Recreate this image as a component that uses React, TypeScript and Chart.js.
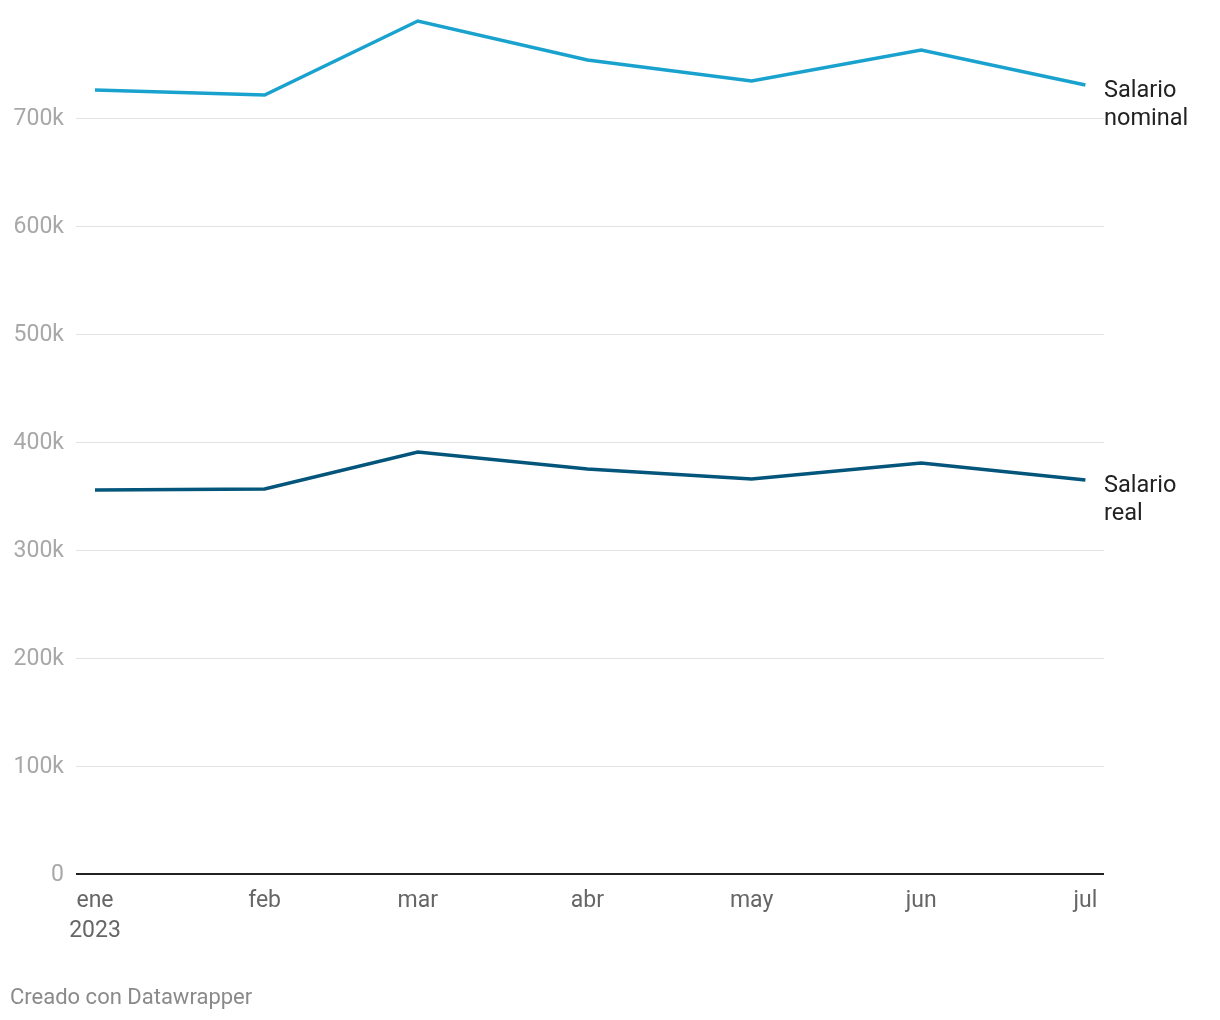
import React, { useEffect, useRef } from "react";
import { Chart, registerables } from "chart.js";

Chart.register(...registerables);

// Day offsets from 1 Jan 2023 for each month start
const monthDays = [0, 31, 59, 90, 120, 151, 181];
const monthLabels = ["ene", "feb", "mar", "abr", "may", "jun", "jul"];
const yearLabel = "2023";

const salarioNominal = [725900, 721300, 789800, 753700, 734300, 763000, 730600];
const salarioReal = [355600, 356500, 390700, 375000, 365700, 380600, 364800];

const seriesNames = [["Salario", "nominal"], ["Salario", "real"]];
const yTicks = [0, 100000, 200000, 300000, 400000, 500000, 600000, 700000];

const W = 1220;
const H = 1020;

export default function App() {
  const ref = useRef<HTMLCanvasElement | null>(null);

  useEffect(() => {
    if (!ref.current) return;
    const labelPlugin = {
      id: "lineLabels",
      afterDatasetsDraw(chart: any) {
        const ctx = chart.ctx;
        ctx.save();
        ctx.font = "23.5px Roboto";
        ctx.fillStyle = "#222222";
        ctx.textAlign = "left";
        ctx.textBaseline = "middle";
        chart.data.datasets.forEach((ds: any, i: number) => {
          const meta = chart.getDatasetMeta(i);
          const pt = meta.data[meta.data.length - 1];
          const names = seriesNames[i];
          names.forEach((t: string, j: number) => {
            ctx.fillText(t, chart.chartArea.right, pt.y + 6 + j * 28);
          });
        });
        ctx.restore();
      },
    };

    const chart = new Chart(ref.current, {
      type: "line",
      data: {
        datasets: [
          {
            label: "Salario nominal",
            data: monthDays.map((d, i) => ({ x: d, y: salarioNominal[i] })),
            borderColor: "#1aa2cf",
            borderWidth: 3.5,
            pointRadius: 0,
            tension: 0,
          },
          {
            label: "Salario real",
            data: monthDays.map((d, i) => ({ x: d, y: salarioReal[i] })),
            borderColor: "#04557b",
            borderWidth: 3.5,
            pointRadius: 0,
            tension: 0,
          },
        ],
      },
      options: {
        animation: false,
        responsive: false,
        devicePixelRatio: 1,
        layout: { padding: { left: 0, right: 116, top: 10, bottom: 0 } },
        plugins: {
          legend: { display: false },
          tooltip: { enabled: false },
        },
        scales: {
          x: {
            type: "linear",
            min: -3.47,
            max: 184.4,
            afterBuildTicks: (scale: any) => {
              scale.ticks = monthDays.map((v) => ({ value: v }));
            },
            afterFit: (scale: any) => {
              scale.height = H - 874;
              scale.paddingLeft = 0;
              scale.paddingRight = 0;
            },
            grid: { display: false, drawTicks: false },
            border: { display: false },
            ticks: {
              autoSkip: false,
              maxRotation: 0,
              padding: 12,
              color: "#666666",
              font: { family: "Roboto", size: 23, lineHeight: 30 / 23 },
              callback: (v: any) => {
                const i = monthDays.indexOf(Number(v));
                if (i === 0) return [monthLabels[0], yearLabel];
                return i >= 0 ? monthLabels[i] : "";
              },
            },
          },
          y: {
            min: 0,
            max: 800000,
            afterBuildTicks: (scale: any) => {
              scale.ticks = yTicks.map((v) => ({ value: v }));
            },
            afterFit: (scale: any) => {
              scale.width = 76;
              scale.paddingTop = 0;
              scale.paddingBottom = 0;
            },
            border: { display: false },
            grid: {
              drawTicks: false,
              color: (c: any) => (c.tick && c.tick.value === 0 ? "#222222" : "#e3e3e3"),
              lineWidth: (c: any) => (c.tick && c.tick.value === 0 ? 2 : 1),
            },
            ticks: {
              padding: 12,
              labelOffset: 1.5,
              color: "#a8a8a8",
              font: { family: "Roboto", size: 23 },
              callback: (v: any) => (Number(v) === 0 ? "0" : Number(v) / 1000 + "k"),
            },
          },
        },
      },
      plugins: [labelPlugin],
    } as any);
    return () => chart.destroy();
  }, []);

  return (
    <div style={{ position: "absolute", left: 0, top: 0, width: W, height: H, background: "#fff" }}>
      <canvas ref={ref} width={W} height={H} style={{ display: "block", width: W, height: H }} />
      <div
        style={{
          position: "absolute",
          left: 10,
          top: 984,
          fontFamily: "Roboto",
          fontSize: 22,
          color: "#8a8a8a",
          lineHeight: "26px",
        }}
      >
        Creado con Datawrapper
      </div>
    </div>
  );
}
